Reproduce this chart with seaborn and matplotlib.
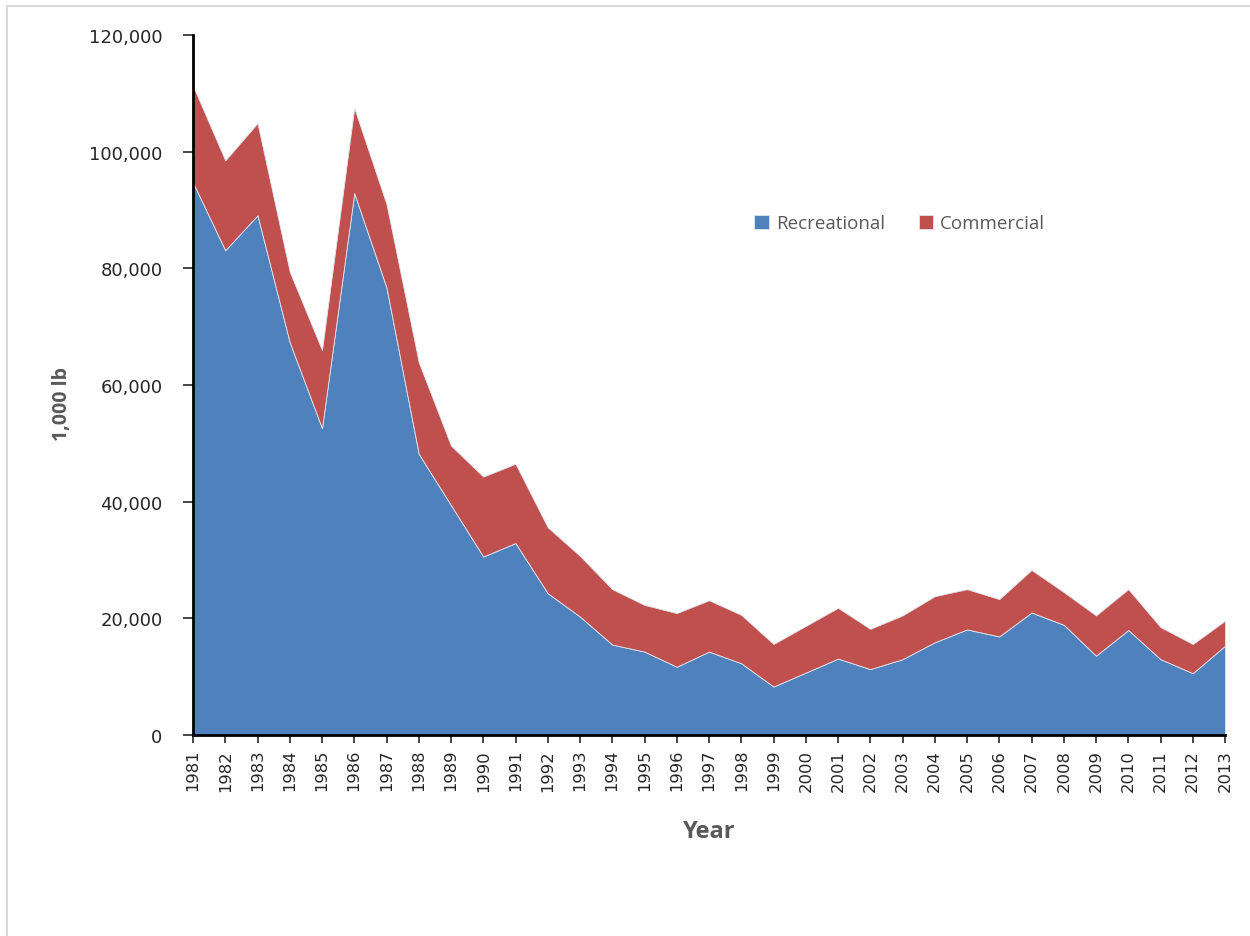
import matplotlib
matplotlib.use("Agg")
import matplotlib.pyplot as plt
import matplotlib.ticker as mticker
import numpy as np
import pandas as pd
import seaborn as sns

# %% DATA (1,000 lb)
years = list(range(1981, 2014))
recreational = [
    94700, 83100, 89100, 67300, 52600, 92900, 76700, 48200, 39400, 30600,
    32900, 24300, 20300, 15500, 14300, 11700, 14300, 12300, 8300, 10700,
    13100, 11300, 13000, 15900, 18100, 16900, 21000, 18900, 13600, 18000,
    13000, 10600, 15300,
]
total = [
    111300, 98500, 104900, 79400, 66000, 107500, 91000, 63900, 49600, 44300,
    46500, 35600, 30700, 25000, 22300, 20900, 23100, 20600, 15600, 18700,
    21800, 18200, 20500, 23800, 25000, 23300, 28300, 24500, 20500, 25000,
    18500, 15600, 19600,
]
commercial = [t - r for t, r in zip(total, recreational)]

df = pd.DataFrame({"Year": years, "Recreational": recreational, "Commercial": commercial})

series_names = ["Recreational", "Commercial"]
colors = ["#4F81BD", "#C0504D"]

# %% PLOT
sns.set_style("white")
plt.rcParams["font.family"] = ["DejaVu Sans"]

fig = plt.figure(figsize=(12.5, 9.37), dpi=100)
ax = fig.add_axes([0.1544, 0.2145, 0.8256, 0.7471])

ax.stackplot(
    df["Year"],
    df["Recreational"],
    df["Commercial"],
    labels=series_names,
    colors=colors,
    edgecolor="#dfe6f0",
    linewidth=0.6,
)

ax.set_xlim(1981, 2013)
ax.set_ylim(0, 120000)
ax.set_xticks(years)
ax.set_xticklabels([str(y) for y in years], rotation=90, fontsize=11.8)
ax.yaxis.set_major_locator(mticker.MultipleLocator(20000))
ax.yaxis.set_major_formatter(mticker.FuncFormatter(lambda v, p: f"{int(v):,}"))
ax.tick_params(axis="y", labelsize=13, length=7, width=1.2, direction="out", left=True, pad=15)
ax.tick_params(axis="x", length=6, width=1.2, direction="out", bottom=True, pad=4)

sns.despine(ax=ax)
for s in ["left", "bottom"]:
    ax.spines[s].set_color("black")
    ax.spines[s].set_linewidth(2)

ax.set_xlabel("Year", fontsize=17, fontweight="bold", color="#595959",
              family="Open Sans", labelpad=20)
ax.set_ylabel("1,000 lb", fontsize=14, fontweight="bold", color="#595959",
              family="Open Sans")
ax.yaxis.set_label_coords(-0.117, 0.474)

ax.legend(
    loc="center",
    bbox_to_anchor=(0.685, 0.731),
    ncol=2,
    frameon=False,
    prop={"family": "Open Sans", "size": 13.5},
    labelcolor="#595959",
    handlelength=0.75,
    handleheight=0.75,
    handletextpad=0.4,
    columnspacing=1.8,
)

# light chart-area border (only top and left visible in the reference)
fig.add_artist(plt.Line2D([7 / 1250, 7 / 1250], [0, 1 - 7 / 937],
                          transform=fig.transFigure, color="#d9d9d9", linewidth=1.5))
fig.add_artist(plt.Line2D([7 / 1250, 1], [1 - 7 / 937, 1 - 7 / 937],
                          transform=fig.transFigure, color="#d9d9d9", linewidth=1.5))

fig.savefig("out.png", dpi=100)
